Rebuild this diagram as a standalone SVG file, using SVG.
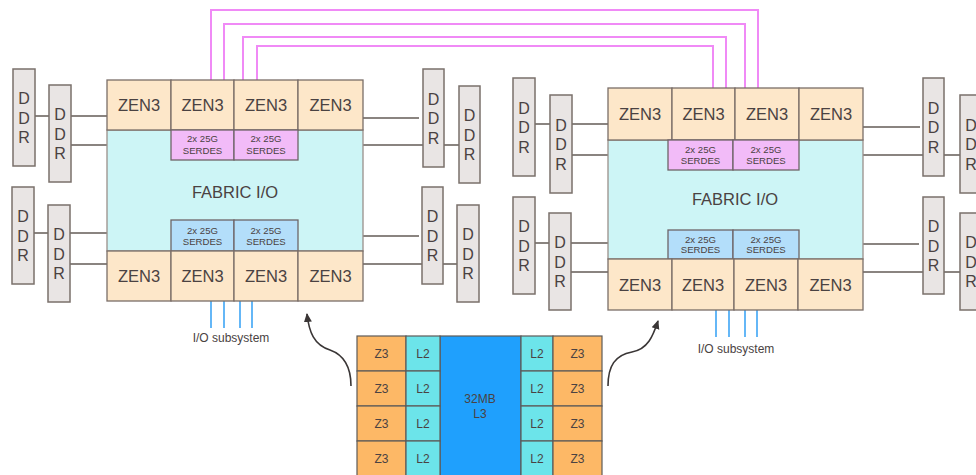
<svg xmlns="http://www.w3.org/2000/svg" width="976" height="475" viewBox="0 0 976 475">
<style>
text{font-family:"Liberation Sans",Arial,sans-serif;fill:#4a4242;text-anchor:middle}
.zen{fill:#fde7c9;stroke:#7a6e68;stroke-width:1.3}
.fab{fill:#cdf5f6;stroke:#9a908a;stroke-width:1.3}
.sp{fill:#f2bbf8;stroke:#6e6468;stroke-width:1.3}
.sb{fill:#b3defa;stroke:#6e6468;stroke-width:1.3}
.ddr{fill:#e9e5e4;stroke:#7a706b;stroke-width:1.5}
.t16{font-size:16.5px}
.t9{font-size:9.6px}
.tio{font-size:12px}
.t12{font-size:12px}
.tddr{font-size:16px}
.wire{stroke:#8a8480;stroke-width:2;fill:none}
.pink{stroke:#f08af6;stroke-width:2;fill:none}
.io{stroke:#3fa6f5;stroke-width:1.6}
.z3{fill:#fdb866;stroke:#5e5a58;stroke-width:1.2}
.l2{fill:#6ce4ea;stroke:#5e5a58;stroke-width:1.2}
.l3{fill:#1fa0fd;stroke:#5e5a58;stroke-width:1.2}
.arr{stroke:#3a3636;stroke-width:1.6;fill:none}
</style>
<defs>
<marker id="ah" markerWidth="10" markerHeight="10" refX="8" refY="5" orient="auto" markerUnits="userSpaceOnUse">
<path d="M0,1 L9,5 L0,9 Z" fill="#3a3636"/>
</marker>
</defs>

<g id="connectors">
<path class="pink" d="M211,80 V10 H758 V88"/>
<path class="pink" d="M224,80 V24 H745 V88"/>
<path class="pink" d="M243,80 V37 H726 V88"/>
<path class="pink" d="M257,80 V46 H713 V88"/>
<path class="wire" d="M35,116 H49 M71,116 H107 M71,145 H107 M34,233 H48 M70,233 H107 M70,264 H107"/>
<path class="wire" d="M363,118 H419 M363,145 H423 M444,145 H459 M363,236 H419 M363,264 H422 M443,264 H457"/>
<path class="wire" d="M535,124 H550 M572,124 H608 M572,155 H608 M535,243 H549 M571,243 H608 M571,272 H608"/>
<path class="wire" d="M863,127 H920 M863,155 H923 M944,155 H960 M863,244 H919 M863,272 H923 M944,272 H960"/>
<path class="io" d="M211,301 V328 M224,301 V328 M240,301 V328 M252,301 V328"/>
<path class="io" d="M716,310 V337 M729,310 V337 M745,310 V337 M757,310 V337"/>
<path class="arr" marker-end="url(#ah)" d="M351,386 C351,366 344,355 330,350 C314,345 309,332 307,314"/>
<path class="arr" marker-end="url(#ah)" d="M608,386 C608,366 615,355 632,352 C648,349 653,336 658,321"/>
</g>

<g id="chip1">
<rect class="fab" x="107" y="130" width="256" height="121"/>
<rect class="zen" x="107" y="80" width="64" height="50"/>
<rect class="zen" x="171" y="80" width="63" height="50"/>
<rect class="zen" x="234" y="80" width="64" height="50"/>
<rect class="zen" x="298" y="80" width="65" height="50"/>
<text class="t16" x="139" y="111">ZEN3</text>
<text class="t16" x="202.5" y="111">ZEN3</text>
<text class="t16" x="266" y="111">ZEN3</text>
<text class="t16" x="330.5" y="111">ZEN3</text>
<rect class="sp" x="171" y="130" width="63" height="30"/>
<rect class="sp" x="234" y="130" width="64" height="30"/>
<text class="t9" x="202.5" y="141.5">2x 25G</text>
<text class="t9" x="202.5" y="153.5">SERDES</text>
<text class="t9" x="266" y="141.5">2x 25G</text>
<text class="t9" x="266" y="153.5">SERDES</text>
<text class="t16" x="235" y="198">FABRIC I/O</text>
<rect class="sb" x="171" y="220" width="63" height="31"/>
<rect class="sb" x="234" y="220" width="64" height="31"/>
<text class="t9" x="202.5" y="233.5">2x 25G</text>
<text class="t9" x="202.5" y="244.5">SERDES</text>
<text class="t9" x="266" y="233.5">2x 25G</text>
<text class="t9" x="266" y="244.5">SERDES</text>
<rect class="zen" x="107" y="251" width="64" height="50"/>
<rect class="zen" x="171" y="251" width="63" height="50"/>
<rect class="zen" x="234" y="251" width="64" height="50"/>
<rect class="zen" x="298" y="251" width="65" height="50"/>
<text class="t16" x="139" y="282">ZEN3</text>
<text class="t16" x="202.5" y="282">ZEN3</text>
<text class="t16" x="266" y="282">ZEN3</text>
<text class="t16" x="330.5" y="282">ZEN3</text>
<text class="tio" x="231" y="342">I/O subsystem</text>
</g>

<g id="chip2">
<rect class="fab" x="608" y="140" width="255" height="119"/>
<rect class="zen" x="608" y="88" width="64" height="52"/>
<rect class="zen" x="672" y="88" width="63" height="52"/>
<rect class="zen" x="735" y="88" width="64" height="52"/>
<rect class="zen" x="799" y="88" width="64" height="52"/>
<text class="t16" x="640" y="120">ZEN3</text>
<text class="t16" x="703.5" y="120">ZEN3</text>
<text class="t16" x="767" y="120">ZEN3</text>
<text class="t16" x="831" y="120">ZEN3</text>
<rect class="sp" x="668" y="140" width="65" height="30"/>
<rect class="sp" x="733" y="140" width="66" height="30"/>
<text class="t9" x="700.5" y="152.5">2x 25G</text>
<text class="t9" x="700.5" y="163.5">SERDES</text>
<text class="t9" x="766" y="152.5">2x 25G</text>
<text class="t9" x="766" y="163.5">SERDES</text>
<text class="t16" x="735" y="205">FABRIC I/O</text>
<rect class="sb" x="668" y="230" width="65" height="29"/>
<rect class="sb" x="733" y="230" width="66" height="29"/>
<text class="t9" x="700.5" y="242.5">2x 25G</text>
<text class="t9" x="700.5" y="252.5">SERDES</text>
<text class="t9" x="766" y="242.5">2x 25G</text>
<text class="t9" x="766" y="252.5">SERDES</text>
<rect class="zen" x="608" y="259" width="64" height="51"/>
<rect class="zen" x="672" y="259" width="62" height="51"/>
<rect class="zen" x="734" y="259" width="64" height="51"/>
<rect class="zen" x="798" y="259" width="65" height="51"/>
<text class="t16" x="640" y="290.5">ZEN3</text>
<text class="t16" x="703" y="290.5">ZEN3</text>
<text class="t16" x="766" y="290.5">ZEN3</text>
<text class="t16" x="830.5" y="290.5">ZEN3</text>
<text class="tio" x="736" y="353">I/O subsystem</text>
</g>

<g id="ddr-l1"><rect class="ddr" x="13" y="69" width="22" height="97"/><text class="tddr" x="24" y="104">D</text><text class="tddr" x="24" y="123.5">D</text><text class="tddr" x="24" y="143">R</text></g>
<g id="ddr-l2"><rect class="ddr" x="49" y="85" width="22" height="97"/><text class="tddr" x="60" y="120">D</text><text class="tddr" x="60" y="139.5">D</text><text class="tddr" x="60" y="159">R</text></g>
<g id="ddr-l3"><rect class="ddr" x="12" y="187" width="22" height="97"/><text class="tddr" x="23" y="222">D</text><text class="tddr" x="23" y="241.5">D</text><text class="tddr" x="23" y="261">R</text></g>
<g id="ddr-l4"><rect class="ddr" x="48" y="205" width="22" height="97"/><text class="tddr" x="59" y="240">D</text><text class="tddr" x="59" y="259.5">D</text><text class="tddr" x="59" y="279">R</text></g>
<g id="ddr-l5"><rect class="ddr" x="423" y="69" width="21" height="98"/><text class="tddr" x="433.5" y="104.5">D</text><text class="tddr" x="433.5" y="124">D</text><text class="tddr" x="433.5" y="143.5">R</text></g>
<g id="ddr-l6"><rect class="ddr" x="459" y="86" width="21" height="97"/><text class="tddr" x="469.5" y="121">D</text><text class="tddr" x="469.5" y="140.5">D</text><text class="tddr" x="469.5" y="160">R</text></g>
<g id="ddr-l7"><rect class="ddr" x="422" y="187" width="21" height="97"/><text class="tddr" x="432.5" y="222">D</text><text class="tddr" x="432.5" y="241.5">D</text><text class="tddr" x="432.5" y="261">R</text></g>
<g id="ddr-l8"><rect class="ddr" x="457" y="205" width="22" height="97"/><text class="tddr" x="468" y="240">D</text><text class="tddr" x="468" y="259.5">D</text><text class="tddr" x="468" y="279">R</text></g>
<g id="ddr-r1"><rect class="ddr" x="513" y="78" width="22" height="98"/><text class="tddr" x="524" y="113.5">D</text><text class="tddr" x="524" y="133">D</text><text class="tddr" x="524" y="152.5">R</text></g>
<g id="ddr-r2"><rect class="ddr" x="550" y="95" width="22" height="98"/><text class="tddr" x="561" y="130.5">D</text><text class="tddr" x="561" y="150">D</text><text class="tddr" x="561" y="169.5">R</text></g>
<g id="ddr-r3"><rect class="ddr" x="513" y="197" width="22" height="97"/><text class="tddr" x="524" y="232">D</text><text class="tddr" x="524" y="251.5">D</text><text class="tddr" x="524" y="271">R</text></g>
<g id="ddr-r4"><rect class="ddr" x="549" y="213" width="22" height="97"/><text class="tddr" x="560" y="248">D</text><text class="tddr" x="560" y="267.5">D</text><text class="tddr" x="560" y="287">R</text></g>
<g id="ddr-r5"><rect class="ddr" x="923" y="78" width="21" height="98"/><text class="tddr" x="933.5" y="113.5">D</text><text class="tddr" x="933.5" y="133">D</text><text class="tddr" x="933.5" y="152.5">R</text></g>
<g id="ddr-r6"><rect class="ddr" x="960" y="95" width="22" height="98"/><text class="tddr" x="971" y="130.5">D</text><text class="tddr" x="971" y="150">D</text><text class="tddr" x="971" y="169.5">R</text></g>
<g id="ddr-r7"><rect class="ddr" x="923" y="197" width="21" height="97"/><text class="tddr" x="933.5" y="232">D</text><text class="tddr" x="933.5" y="251.5">D</text><text class="tddr" x="933.5" y="271">R</text></g>
<g id="ddr-r8"><rect class="ddr" x="960" y="213" width="22" height="97"/><text class="tddr" x="971" y="248">D</text><text class="tddr" x="971" y="267.5">D</text><text class="tddr" x="971" y="287">R</text></g>

<g id="ccd">
<rect class="l3" x="440" y="336" width="81" height="145"/>
<rect class="z3" x="357" y="336" width="49" height="35"/>
<rect class="z3" x="357" y="371" width="49" height="35"/>
<rect class="z3" x="357" y="406" width="49" height="35"/>
<rect class="z3" x="357" y="441" width="49" height="40"/>
<rect class="l2" x="406" y="336" width="34" height="35"/>
<rect class="l2" x="406" y="371" width="34" height="35"/>
<rect class="l2" x="406" y="406" width="34" height="35"/>
<rect class="l2" x="406" y="441" width="34" height="40"/>
<rect class="l2" x="521" y="336" width="32" height="35"/>
<rect class="l2" x="521" y="371" width="32" height="35"/>
<rect class="l2" x="521" y="406" width="32" height="35"/>
<rect class="l2" x="521" y="441" width="32" height="40"/>
<rect class="z3" x="553" y="336" width="49" height="35"/>
<rect class="z3" x="553" y="371" width="49" height="35"/>
<rect class="z3" x="553" y="406" width="49" height="35"/>
<rect class="z3" x="553" y="441" width="49" height="40"/>
<text class="t12" x="381.5" y="358">Z3</text>
<text class="t12" x="381.5" y="393">Z3</text>
<text class="t12" x="381.5" y="428">Z3</text>
<text class="t12" x="381.5" y="463">Z3</text>
<text class="t12" x="423" y="358">L2</text>
<text class="t12" x="423" y="393">L2</text>
<text class="t12" x="423" y="428">L2</text>
<text class="t12" x="423" y="463">L2</text>
<text class="t12" x="537" y="358">L2</text>
<text class="t12" x="537" y="393">L2</text>
<text class="t12" x="537" y="428">L2</text>
<text class="t12" x="537" y="463">L2</text>
<text class="t12" x="577.5" y="358">Z3</text>
<text class="t12" x="577.5" y="393">Z3</text>
<text class="t12" x="577.5" y="428">Z3</text>
<text class="t12" x="577.5" y="463">Z3</text>
<text class="t12" x="480" y="403">32MB</text>
<text class="t12" x="480" y="418">L3</text>
</g>
</svg>
